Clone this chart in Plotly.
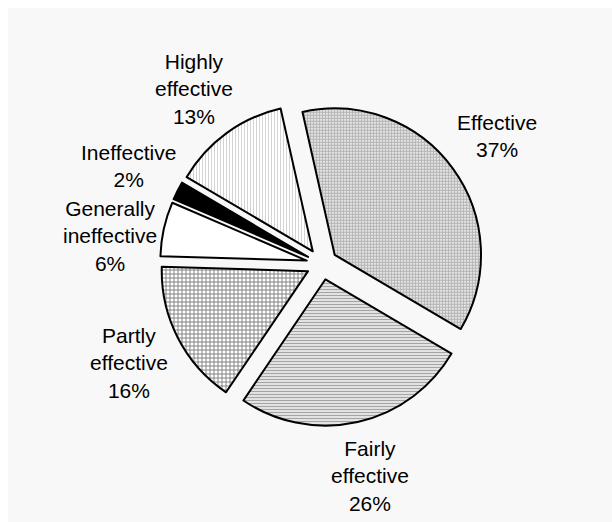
import math
import plotly.graph_objects as go

categories = ["Effective", "Fairly effective", "Partly effective",
              "Generally ineffective", "Ineffective", "Highly effective"]
display_labels = ["Effective", "Fairly<br>effective", "Partly<br>effective",
                  "Generally<br>ineffective", "Ineffective", "Highly<br>effective"]
values = [37, 26, 16, 6, 2, 13]

pattern_shapes = [".", "-", "+", "", "", "|"]
pattern_fg = ["#6a6a6a", "#4a4a4a", "#000000", "#000000", "#000000", "#a8a8a8"]
pattern_bg = ["#ffffff", "#ffffff", "#ffffff", "#ffffff", "#000000", "#ffffff"]
pattern_size = [3, 3, 4, 4, 4, 3]
pattern_solid = [0.7, 0.55, 0.42, 0.3, 0.3, 0.35]
fill_colors = ["#ffffff", "#ffffff", "#ffffff", "#ffffff", "#000000", "#ffffff"]

W, H = 612, 522
ROTATION = -12.7          # start angle of first slice, clockwise from 12 o'clock
cx, cy = 322, 264         # pixel centre of the pie (from top-left)
R = 162                   # half-size of the pie domain (radius incl. pull)
PULL = 0.107
LABEL_R = 217             # distance of label centres from pie centre (px)
FONT_SIZE = 21
LINE_H = FONT_SIZE * 1.3
FONT = "Liberation Sans, Arial, sans-serif"

fig = go.Figure(go.Pie(
    labels=categories,
    values=values,
    sort=False,
    direction="clockwise",
    rotation=ROTATION,
    pull=[PULL] * len(values),
    textinfo="none",
    marker=dict(
        colors=fill_colors,
        line=dict(color="#000000", width=2),
        pattern=dict(shape=pattern_shapes, fgcolor=pattern_fg, bgcolor=pattern_bg,
                     size=pattern_size, solidity=pattern_solid, fillmode="overlay"),
    ),
    hoverinfo="label+percent",
    showlegend=False,
    domain=dict(x=[(cx - R) / W, (cx + R) / W],
                y=[(H - cy - R) / H, (H - cy + R) / H]),
))

# outside labels, placed along each slice's mid-angle
total = sum(values)
labels_pos = []
start = ROTATION
for lab, v in zip(display_labels, values):
    span = 360.0 * v / total
    mid = math.radians(start + span / 2)
    start += span
    text = f"{lab}<br>{round(100 * v / total)}%"
    nlines = text.count("<br>") + 1
    labels_pos.append(dict(text=text, side=1 if math.sin(mid) >= 0 else -1,
                           x=cx + LABEL_R * math.sin(mid),
                           y=cy - LABEL_R * math.cos(mid),
                           h=nlines * LINE_H))

# simple collision avoidance: on each side push overlapping labels downward
for side in (1, -1):
    group = sorted([p for p in labels_pos if p["side"] == side], key=lambda p: p["y"])
    for a, b in zip(group, group[1:]):
        need = (a["h"] + b["h"]) / 2 + 2
        if b["y"] - a["y"] < need:
            b["y"] = a["y"] + need

annotations = [dict(
    x=p["x"] / W, y=1 - p["y"] / H, xref="paper", yref="paper",
    text=p["text"], showarrow=False,
    xanchor="center", yanchor="middle", align="center",
    font=dict(family=FONT, size=FONT_SIZE, color="#000000"),
) for p in labels_pos]

fig.update_layout(
    width=W, height=H,
    margin=dict(l=0, r=0, t=0, b=0),
    paper_bgcolor="#ffffff",
    shapes=[dict(type="rect", xref="paper", yref="paper", x0=8 / W, x1=1, y0=0, y1=1 - 8 / H,
                 fillcolor="#f8f8f8", line=dict(width=0), layer="below")],
    annotations=annotations,
    showlegend=False,
)

fig.write_html("out.html")
